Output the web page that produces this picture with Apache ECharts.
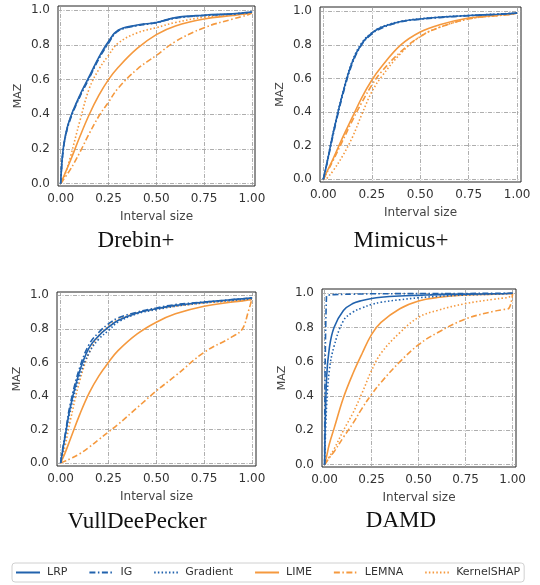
<!DOCTYPE html>
<html>
<head>
<meta charset="utf-8">
<script src="https://cdn.jsdelivr.net/npm/echarts@6/dist/echarts.min.js"></script>
<style>
  html, body { margin: 0; padding: 0; background: #fff; }
  #main { width: 540px; height: 585px; }
</style>
</head>
<body>
<div id="main"></div>
<script>
// interval sizes shared by every curve
var intervalSize = [0, 0.01, 0.025, 0.05, 0.1, 0.15, 0.2, 0.25, 0.3, 0.4, 0.5, 0.6, 0.75, 0.9, 0.95, 0.98, 1.0];
var xTicks = [0, 0.25, 0.5, 0.75, 1.0];
var yTicks = [0, 0.2, 0.4, 0.6, 0.8, 1.0];
var methods = ['LRP', 'IG', 'Gradient', 'LIME', 'LEMNA', 'KernelSHAP'];
var datasets = ['Drebin+', 'Mimicus+', 'VullDeePecker', 'DAMD'];

// Drebin+
var drebinLRP = [0, 0.17, 0.28, 0.38, 0.51, 0.62, 0.73, 0.82, 0.885, 0.915, 0.93, 0.958, 0.972, 0.98, 0.985, 0.988, 0.99];
var drebinIG = [0, 0.16, 0.27, 0.37, 0.5, 0.61, 0.72, 0.81, 0.88, 0.912, 0.928, 0.955, 0.97, 0.978, 0.983, 0.986, 0.99];
var drebinGradient = [0, 0.165, 0.275, 0.375, 0.505, 0.615, 0.725, 0.815, 0.882, 0.913, 0.93, 0.956, 0.971, 0.979, 0.984, 0.987, 0.99];
var drebinLIME = [0, 0.025, 0.065, 0.13, 0.27, 0.4, 0.51, 0.6, 0.67, 0.78, 0.86, 0.91, 0.95, 0.97, 0.977, 0.982, 0.985];
var drebinLEMNA = [0, 0.015, 0.04, 0.08, 0.18, 0.29, 0.39, 0.47, 0.55, 0.66, 0.74, 0.82, 0.9, 0.95, 0.965, 0.975, 0.985];
var drebinKernelSHAP = [0, 0.02, 0.06, 0.15, 0.36, 0.55, 0.66, 0.74, 0.81, 0.87, 0.9, 0.93, 0.96, 0.975, 0.98, 0.983, 0.985];

// Mimicus+
var mimicusLRP = [0, 0.05, 0.13, 0.27, 0.51, 0.7, 0.81, 0.87, 0.905, 0.94, 0.955, 0.965, 0.975, 0.983, 0.986, 0.988, 0.99];
var mimicusIG = [0, 0.048, 0.125, 0.26, 0.5, 0.69, 0.805, 0.865, 0.9, 0.937, 0.953, 0.963, 0.974, 0.982, 0.985, 0.987, 0.99];
var mimicusGradient = [0, 0.052, 0.135, 0.275, 0.515, 0.705, 0.815, 0.872, 0.907, 0.941, 0.956, 0.966, 0.976, 0.984, 0.987, 0.989, 0.99];
var mimicusLIME = [0, 0.025, 0.06, 0.12, 0.25, 0.37, 0.49, 0.59, 0.67, 0.8, 0.877, 0.92, 0.96, 0.978, 0.983, 0.986, 0.99];
var mimicusLEMNA = [0, 0.02, 0.055, 0.11, 0.23, 0.35, 0.46, 0.56, 0.64, 0.76, 0.85, 0.905, 0.955, 0.975, 0.98, 0.985, 0.99];
var mimicusKernelSHAP = [0, 0, 0.015, 0.05, 0.14, 0.25, 0.39, 0.52, 0.61, 0.75, 0.85, 0.905, 0.955, 0.975, 0.98, 0.985, 0.99];

// VullDeePecker
var vulLRP = [0, 0.07, 0.17, 0.33, 0.55, 0.69, 0.76, 0.81, 0.85, 0.895, 0.92, 0.94, 0.96, 0.975, 0.98, 0.983, 0.985];
var vulIG = [0, 0.08, 0.18, 0.35, 0.57, 0.71, 0.78, 0.83, 0.865, 0.9, 0.925, 0.945, 0.96, 0.975, 0.98, 0.983, 0.985];
var vulGradient = [0, 0.065, 0.16, 0.31, 0.52, 0.66, 0.74, 0.79, 0.84, 0.89, 0.915, 0.935, 0.955, 0.97, 0.975, 0.978, 0.98];
var vulLIME = [0, 0.025, 0.065, 0.14, 0.29, 0.42, 0.52, 0.6, 0.67, 0.77, 0.84, 0.89, 0.935, 0.96, 0.967, 0.972, 0.975];
var vulLEMNA = [0, 0.005, 0.012, 0.025, 0.055, 0.095, 0.14, 0.185, 0.23, 0.33, 0.43, 0.52, 0.66, 0.755, 0.8, 0.9, 0.98];
var vulKernelSHAP = [0, 0.04, 0.11, 0.25, 0.49, 0.66, 0.76, 0.815, 0.855, 0.895, 0.92, 0.935, 0.955, 0.965, 0.97, 0.973, 0.975];

// DAMD
var damdLRP = [0, 0.5, 0.68, 0.8, 0.9, 0.94, 0.958, 0.97, 0.977, 0.984, 0.988, 0.992, 0.995, 0.997, 0.998, 0.999, 1.0];
var damdIG = [0, 0.985, 0.99, 0.992, 0.994, 0.995, 0.996, 0.997, 0.997, 0.998, 0.998, 0.999, 0.999, 1.0, 1.0, 1.0, 1.0];
var damdGradient = [0, 0.33, 0.55, 0.69, 0.84, 0.89, 0.915, 0.935, 0.948, 0.962, 0.974, 0.982, 0.99, 0.995, 0.997, 0.998, 1.0];
var damdLIME = [0, 0.045, 0.12, 0.21, 0.39, 0.53, 0.65, 0.76, 0.83, 0.91, 0.955, 0.975, 0.99, 0.995, 0.997, 0.998, 1.0];
var damdLEMNA = [0, 0.015, 0.04, 0.075, 0.16, 0.24, 0.33, 0.41, 0.48, 0.6, 0.7, 0.77, 0.85, 0.895, 0.905, 0.912, 1.0];
var damdKernelSHAP = [0, 0.018, 0.045, 0.09, 0.2, 0.3, 0.42, 0.55, 0.65, 0.77, 0.86, 0.9, 0.94, 0.965, 0.972, 0.977, 1.0];

var panelValues = [
    [drebinLRP, drebinIG, drebinGradient, drebinLIME, drebinLEMNA, drebinKernelSHAP],
    [mimicusLRP, mimicusIG, mimicusGradient, mimicusLIME, mimicusLEMNA, mimicusKernelSHAP],
    [vulLRP, vulIG, vulGradient, vulLIME, vulLEMNA, vulKernelSHAP],
    [damdLRP, damdIG, damdGradient, damdLIME, damdLEMNA, damdKernelSHAP]
];

// layout of the four boxes
var boxes = [
    { left: 58, top: 6, width: 197, height: 180, x: [-0.014, 1.016], y: [-0.014, 1.025], title: [136, 241] },
    { left: 320, top: 7, width: 201, height: 175, x: [-0.017, 1.02], y: [-0.016, 1.026], title: [401, 241] },
    { left: 57, top: 292, width: 199, height: 174, x: [-0.019, 1.021], y: [-0.018, 1.02], title: [137, 522] },
    { left: 322, top: 289, width: 194, height: 178, x: [-0.014, 1.018], y: [-0.014, 1.025], title: [401, 521] }
];

var blue = '#2162ad';
var orange = '#f5993e';
var styles = [
    { color: blue, type: 'solid' },
    { color: blue, type: [6, 2.5, 1.5, 2.5] },
    { color: blue, type: [1.5, 2.2] },
    { color: orange, type: 'solid' },
    { color: orange, type: [6, 2.5, 1.5, 2.5] },
    { color: orange, type: [1.5, 2.2] }
];

var gridLine = { show: true, lineStyle: { color: '#999', width: 0.8, type: [4, 1.5, 1, 1.5] } };

var grids = [], xAxes = [], yAxes = [], series = [], graphics = [];
boxes.forEach(function (b, i) {
    grids.push({ left: b.left, top: b.top, width: b.width, height: b.height, show: true,
        borderColor: '#222', borderWidth: 1, backgroundColor: '#fff' });
    xAxes.push({
        type: 'value', gridIndex: i, min: b.x[0], max: b.x[1],
        name: 'Interval size', nameLocation: 'middle', nameGap: 25,
        nameTextStyle: { fontSize: 12, color: '#444', fontFamily: 'DejaVu Sans' },
        axisLine: { show: false }, axisTick: { show: false, customValues: xTicks },
        axisLabel: { customValues: xTicks, fontSize: 12, color: '#333', margin: 7, fontFamily: 'DejaVu Sans',
            formatter: function (v) { return v.toFixed(2); } },
        splitLine: gridLine
    });
    yAxes.push({
        type: 'value', gridIndex: i, min: b.y[0], max: b.y[1],
        name: 'MAZ', nameLocation: 'middle', nameGap: 34, nameRotate: 90,
        nameTextStyle: { fontSize: 11, color: '#444', fontFamily: 'DejaVu Sans' },
        axisLine: { show: false }, axisTick: { show: false, customValues: yTicks },
        axisLabel: { customValues: yTicks, fontSize: 12, color: '#333', margin: 8, fontFamily: 'DejaVu Sans',
            formatter: function (v) { return v.toFixed(1); } },
        splitLine: gridLine
    });
    panelValues[i].forEach(function (vals, k) {
        series.push({
            name: methods[k], type: 'line', xAxisIndex: i, yAxisIndex: i,
            data: intervalSize.map(function (x, j) { return [x, vals[j]]; }),
            showSymbol: false, symbol: 'none', smooth: 0.4,
            lineStyle: { color: styles[k].color, type: styles[k].type, width: 1.6 },
            itemStyle: { color: styles[k].color },
            z: 10 - k
        });
    });
    graphics.push({
        type: 'text', x: b.title[0], y: b.title[1],
        style: { text: datasets[i], fontSize: 23, fontFamily: 'Liberation Serif', fill: '#111',
            align: 'center', verticalAlign: 'middle' }
    });
});

var chart = echarts.init(document.getElementById('main'));
chart.setOption({
    animation: false,
    grid: grids,
    xAxis: xAxes,
    yAxis: yAxes,
    series: series,
    graphic: graphics,
    legend: {
        data: methods, left: 12, top: 563, itemWidth: 24, itemHeight: 10, itemGap: 21,
        padding: [4, 4, 4, 3], borderColor: '#d0d0d0', borderWidth: 1, borderRadius: 3,
        itemStyle: { opacity: 0 },
        textStyle: { fontSize: 11, color: '#333', fontFamily: 'DejaVu Sans', padding: [0, 0, 0, 2] }
    }
});
</script>
</body>
</html>
